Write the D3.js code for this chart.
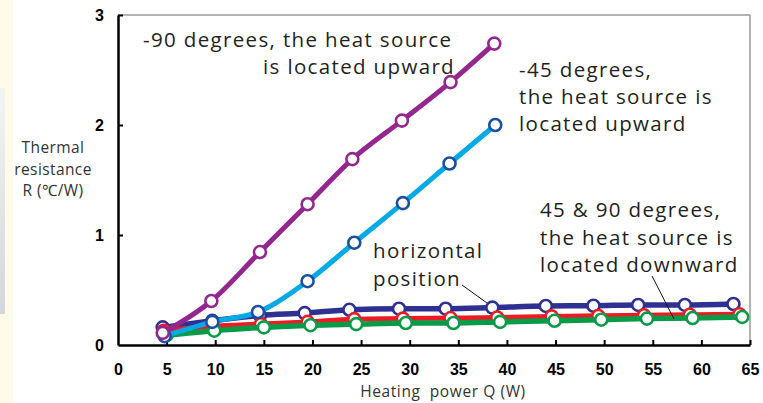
<!DOCTYPE html>
<html>
<head>
<meta charset="utf-8">
<script src="https://cdn.jsdelivr.net/npm/d3@7"></script>
<style>
  html, body { margin: 0; padding: 0; background: #ffffff; }
  svg { display: block; }
</style>
</head>
<body>
<svg id="chart" width="763" height="403"></svg>
<script>
// ---- data ----
const xTicks = [0, 5, 10, 15, 20, 25, 30, 35, 40, 45, 50, 55, 60, 65];
const yTicks = [0, 1, 2, 3];

const purpleX = [4.6, 9.6, 14.6, 19.5, 24.1, 29.2, 34.2, 38.7];
const purpleY = [0.11, 0.40, 0.845, 1.28, 1.69, 2.04, 2.39, 2.74];

const cyanX = [4.8, 9.7, 14.4, 19.5, 24.3, 29.3, 34.1, 38.8];
const cyanY = [0.08, 0.21, 0.30, 0.58, 0.93, 1.29, 1.65, 2.00];

const horizX = [4.6, 9.7, 14.6, 19.2, 23.8, 28.9, 33.7, 38.5, 44.0, 48.9, 53.5, 58.3, 63.3];
const horizY = [0.16, 0.22, 0.27, 0.29, 0.32, 0.33, 0.33, 0.34, 0.355, 0.357, 0.364, 0.364, 0.373];

const redX = [4.7, 9.7, 14.7, 19.5, 24.3, 29.3, 34.2, 39.0, 44.6, 49.4, 54.1, 58.8, 63.9];
const redY = [0.13, 0.17, 0.19, 0.21, 0.235, 0.24, 0.245, 0.25, 0.26, 0.265, 0.27, 0.275, 0.28];

const greenX = [5.0, 9.9, 15.0, 19.8, 24.5, 29.6, 34.5, 39.3, 44.9, 49.7, 54.4, 59.1, 64.2];
const greenY = [0.09, 0.13, 0.16, 0.18, 0.19, 0.20, 0.20, 0.21, 0.22, 0.23, 0.24, 0.245, 0.255];

// ---- setup ----
const svg = d3.select("#chart");
const L = 118, R = 750, T = 15, B = 345;
const x = d3.scaleLinear().domain([0, 65]).range([L, R]);
const y = d3.scaleLinear().domain([0, 3]).range([B, T]);

// left decorative strip
svg.append("rect").attr("x", 0).attr("y", 0).attr("width", 13).attr("height", 403).attr("fill", "#fffbea");
const grad = svg.append("defs").append("linearGradient").attr("id", "gstrip").attr("x1", 0).attr("y1", 0).attr("x2", 0).attr("y2", 1);
grad.append("stop").attr("offset", "0%").attr("stop-color", "#f3f4f6");
grad.append("stop").attr("offset", "100%").attr("stop-color", "#d4d6dc");
svg.append("rect").attr("x", 0).attr("y", 88).attr("width", 5).attr("height", 226).attr("fill", "url(#gstrip)");

// frame: top & right gray
svg.append("line").attr("x1", L).attr("x2", R).attr("y1", T).attr("y2", T).attr("stroke", "#9a9a9a").attr("stroke-width", 1.5);
svg.append("line").attr("x1", R).attr("x2", R).attr("y1", T).attr("y2", B).attr("stroke", "#9a9a9a").attr("stroke-width", 1.5);

// axes
const tickFont = "'Liberation Sans', Arial, sans-serif";
const xAxis = d3.axisBottom(x).tickValues(xTicks).tickSizeInner(-5).tickSizeOuter(0).tickPadding(19).tickFormat(d3.format("d"));
const gx = svg.append("g").attr("transform", `translate(0,${B})`).call(xAxis);
gx.select(".domain").attr("stroke", "#000").attr("stroke-width", 2.5);
gx.selectAll(".tick line").attr("stroke", "#000").attr("stroke-width", 2)
  .filter(d => d === 0).attr("opacity", 0);
gx.selectAll(".tick text").attr("font-family", tickFont).attr("font-weight", "bold").attr("font-size", 16).attr("fill", "#000");

const yAxis = d3.axisLeft(y).tickValues(yTicks).tickSizeInner(-5).tickSizeOuter(0).tickPadding(14).tickFormat(d3.format("d"));
const gy = svg.append("g").attr("transform", `translate(${L},0)`).call(yAxis);
gy.select(".domain").attr("stroke", "#000").attr("stroke-width", 2.5);
gy.selectAll(".tick line").attr("stroke", "#000").attr("stroke-width", 2).filter(d => d === 0).attr("opacity", 0);
gy.selectAll(".tick text").attr("font-family", tickFont).attr("font-weight", "bold").attr("font-size", 16).attr("fill", "#000");

// axis titles
const titleFont = "'Open Sans', 'Noto Sans', sans-serif";
const yt = svg.append("text").attr("text-anchor", "middle").attr("font-family", titleFont)
  .attr("font-size", 15.5).attr("letter-spacing", 0.4).attr("fill", "#333");
["Thermal", "resistance", "R (℃/W)"].forEach((s, i) => {
  yt.append("tspan").attr("x", 53).attr("y", 153 + i * 21.5).text(s);
});
svg.append("text").attr("x", 443).attr("y", 397).attr("text-anchor", "middle")
  .attr("font-family", titleFont).attr("font-size", 15.5).attr("letter-spacing", 0.6).attr("fill", "#333")
  .attr("xml:space", "preserve").style("white-space", "pre").text("Heating  power Q (W)");

// series
const series = [
  { xs: horizX, ys: horizY, line: "#2e3192", mk: "#2e3192", w: 5.5 },
  { xs: redX, ys: redY, line: "#ed1c24", mk: "#ed1c24", w: 5 },
  { xs: greenX, ys: greenY, line: "#0a9a48", mk: "#0a9a48", w: 5.5 },
  { xs: cyanX, ys: cyanY, line: "#00aae6", mk: "#1b50a0", w: 5 },
  { xs: purpleX, ys: purpleY, line: "#93278f", mk: "#93278f", w: 5 }
];
const lineGen = d3.line().x(d => x(d[0])).y(d => y(d[1])).curve(d3.curveMonotoneX);
series.forEach(s => {
  const pts = s.xs.map((v, i) => [v, s.ys[i]]);
  const g = svg.append("g");
  g.append("path").attr("d", lineGen(pts)).attr("fill", "none").attr("stroke", s.line)
    .attr("stroke-width", s.w).attr("stroke-linejoin", "round").attr("stroke-linecap", "round");
  g.selectAll("circle").data(pts).join("circle")
    .attr("cx", d => x(d[0])).attr("cy", d => y(d[1])).attr("r", 6)
    .attr("fill", "#fff").attr("stroke", s.mk).attr("stroke-width", 2.6);
});

// annotations
const annFont = "'Open Sans', 'Noto Sans', sans-serif";
function ann(lines, xpos, y0, dy, anchor) {
  const t = svg.append("text").attr("font-family", annFont).attr("font-size", 20.5)
    .attr("letter-spacing", 1.35).attr("fill", "#231f20").attr("text-anchor", anchor);
  lines.forEach((s, i) => t.append("tspan").attr("x", xpos).attr("y", y0 + i * dy).text(s));
}
ann(["-90 degrees, the heat source"], 143, 47, 27, "start");
ann(["is located upward"], 455, 74, 27, "end");
ann(["-45 degrees,", "the heat source is", "located upward"], 519, 77, 27, "start");
ann(["horizontal", "position"], 373, 258, 28, "start");
ann(["45 & 90 degrees,", "the heat source is", "located downward"], 540, 217, 27.5, "start");

// leader lines
svg.append("line").attr("x1", 462).attr("y1", 285).attr("x2", 487).attr("y2", 303).attr("stroke", "#111").attr("stroke-width", 1);
svg.append("line").attr("x1", 652).attr("y1", 276).attr("x2", 674).attr("y2", 319).attr("stroke", "#111").attr("stroke-width", 1);
</script>
</body>
</html>
